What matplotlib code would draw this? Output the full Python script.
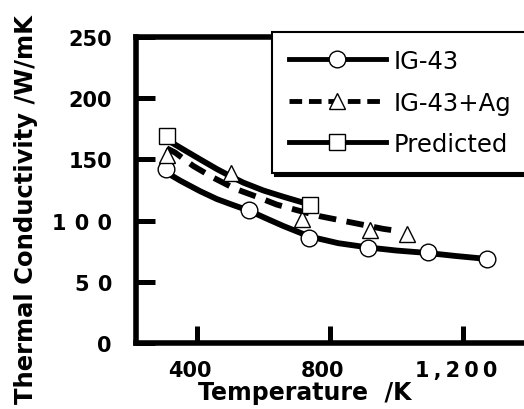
import matplotlib
matplotlib.use("Agg")
import matplotlib.pyplot as plt
from matplotlib.transforms import ScaledTranslation

# measured points
t_ig43 = [306, 557, 738, 915, 1094, 1274]
k_ig43 = [141.8, 108.4, 85.8, 77.6, 74.0, 68.6]

t_ag = [309, 502, 715, 922, 1033]
k_ag = [153.3, 138.5, 101.6, 92.6, 89.3]

t_pred = [309, 740]
k_pred = [168.6, 113.0]

# fitted curves
t_ig43_fit = [306, 350, 409, 460, 510, 557, 610, 660, 738, 825, 915, 1000, 1094, 1180, 1274]
k_ig43_fit = [139.5, 132.5, 124.0, 117.5, 112.5, 108.0, 101.5, 95.5, 87.0, 81.5, 78.0, 75.5, 73.5, 71.0, 68.6]

t_ag_fit = [309, 334, 389, 449, 514, 580, 640, 700, 770, 835, 900, 960, 1011]
k_ag_fit = [159.0, 155.5, 144.5, 135.0, 126.0, 119.4, 113.0, 108.5, 103.5, 100.0, 96.5, 93.2, 91.2]

t_pred_fit = [309, 334, 409, 460, 502, 539, 600, 660, 715, 740]
k_pred_fit = [166.0, 162.0, 150.0, 142.0, 136.0, 131.0, 124.5, 119.4, 115.0, 113.5]

xticks = [400, 800, 1200]
xticklabels = ["400", "800", "1\u2009,\u20092\u20090\u20090"]
yticks = [0, 50, 100, 150, 200, 250]
yticklabels = ["0", "5\u2009\u20090", "1\u2009\u20090\u2009\u20090", "150", "200", "250"]

fig = plt.figure(figsize=(5.24, 4.10), dpi=100)
ax = fig.add_axes([135.5 / 524, 66 / 410, 388.5 / 524, 306.2 / 410])

lw = 4.2
ax.plot(t_ig43_fit, k_ig43_fit, color="black", lw=lw, solid_capstyle="butt", zorder=2)
ax.plot(t_ag_fit, k_ag_fit, color="black", lw=lw, ls=(0, (3, 1.8)), zorder=2)
ax.plot(t_pred_fit, k_pred_fit, color="black", lw=lw, solid_capstyle="butt", zorder=2)

ax.plot(t_ig43, k_ig43, ls="none", marker="o", ms=12, mfc="white", mec="black", mew=1.0, zorder=3)
ax.plot(t_ag, k_ag, ls="none", marker="^", ms=12, mfc="white", mec="black", mew=1.0, zorder=3)
ax.plot(t_pred, k_pred, ls="none", marker="s", ms=12, mfc="white", mec="black", mew=1.0, zorder=3)

# legend proxies
h1, = ax.plot([], [], color="black", lw=3.5, marker="o", ms=12, mfc="white", mec="black", mew=1.0)
h2, = ax.plot([], [], color="black", lw=3.5, ls=(0, (2.6, 1.4)), marker="^", ms=12, mfc="white", mec="black", mew=1.0)
h3, = ax.plot([], [], color="black", lw=3.5, marker="s", ms=12, mfc="white", mec="black", mew=1.0)
leg = ax.legend([h1, h2, h3], ["IG-43", "IG-43+Ag", "Predicted"],
                loc="upper left", bbox_to_anchor=(0.351, 1.0157), borderaxespad=0,
                prop={"family": "DejaVu Sans", "size": 17.5}, numpoints=1,
                handlelength=4.0, handletextpad=0.3, labelspacing=0.72, borderpad=0.7,
                fancybox=False, shadow={"color": "black", "alpha": 1.0})
leg.get_frame().set_edgecolor("black")
leg.get_frame().set_linewidth(1.5)

ax.set_xlim(215, 1384)
ax.set_ylim(0, 250)

for side in ["left", "bottom", "top"]:
    ax.spines[side].set_linewidth(4)
ax.spines["right"].set_visible(False)

ax.set_xticks(xticks)
ax.set_xticklabels(xticklabels)
ax.set_yticks(yticks)
ax.set_yticklabels(yticklabels)
ax.tick_params(axis="y", direction="in", length=14, width=3.6, pad=17, labelsize=15)
ax.tick_params(axis="x", direction="in", length=12, width=3.6, pad=12, labelsize=15)
for lab in ax.get_xticklabels() + ax.get_yticklabels():
    lab.set_fontweight("bold")
for lab in ax.get_xticklabels():
    lab.set_transform(lab.get_transform() + ScaledTranslation(-7 / 100, 0, fig.dpi_scale_trans))

ax.set_xlabel("Temperature  /K", fontsize=17, fontweight="bold")
ax.xaxis.set_label_coords(0.436, -0.12)
ax.set_ylabel("Thermal Conductivity /W/mK", fontsize=17.5, fontweight="bold")
ax.yaxis.set_label_coords(-0.251, 0.4376)

fig.savefig("out.png", dpi=100)
